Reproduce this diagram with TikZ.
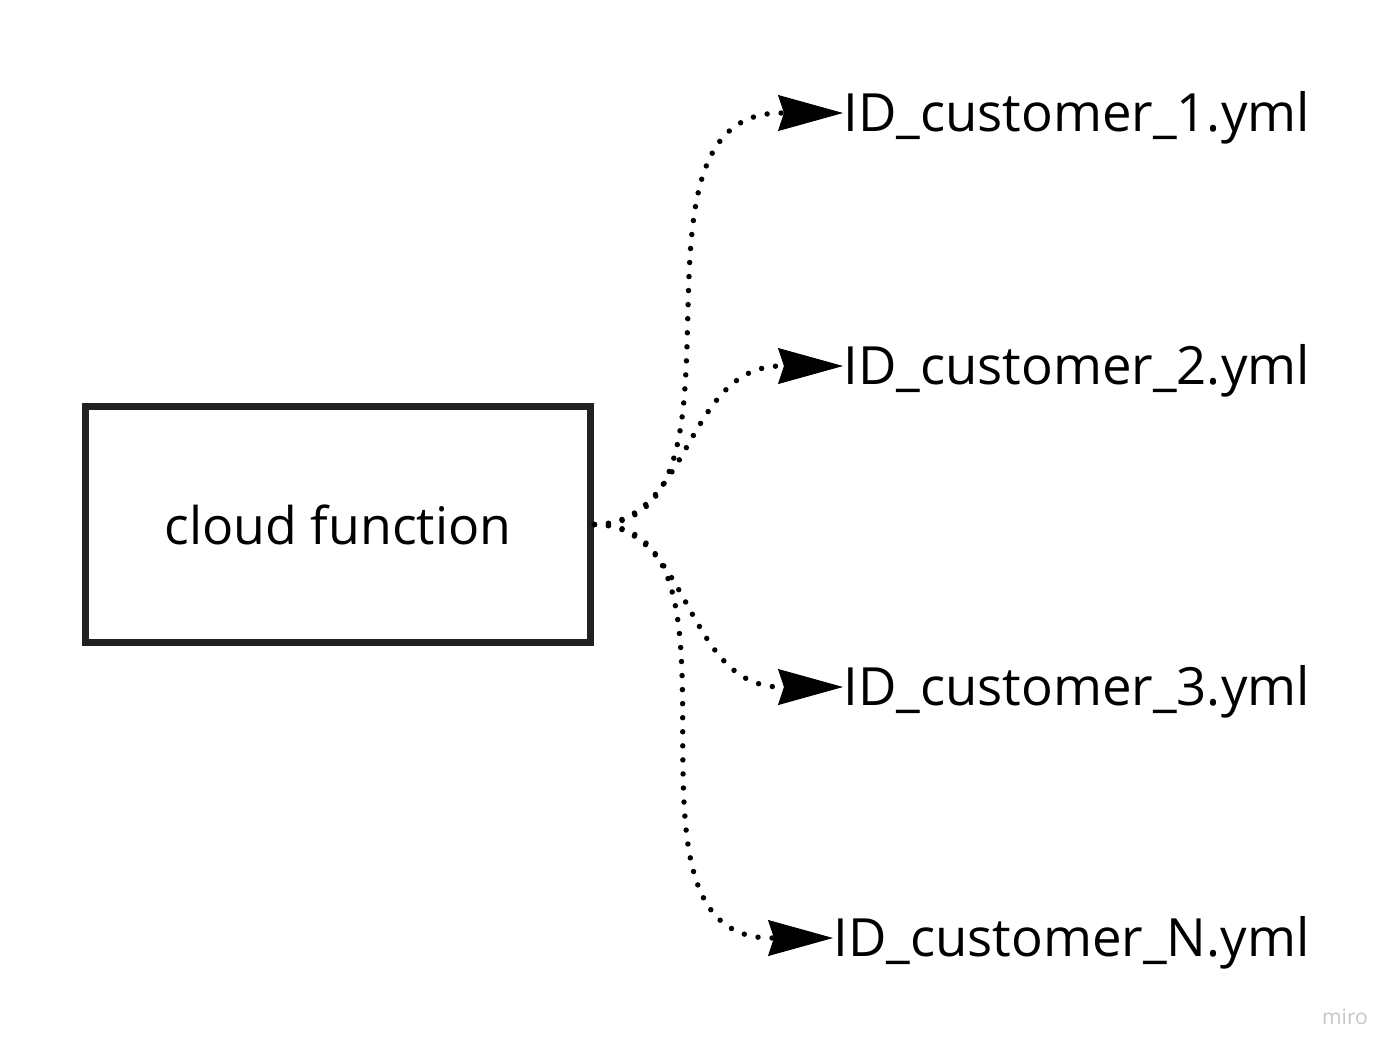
\documentclass[tikz,border=0pt]{standalone}
\usepackage{fontspec}
\setmainfont{Open Sans}
\usepackage{tikz}
\usetikzlibrary{arrows.meta,calc}

\begin{document}
\begin{tikzpicture}[x=0.02cm,y=-0.02cm,
 func/.style={draw=black!87,line width=0.14cm,minimum width=10.12cm,
              minimum height=4.74cm,inner sep=0pt,
              font=\fontsize{29.5}{34}\selectfont},
 file/.style={anchor=west,inner sep=0pt,text height=21.4pt,text depth=0pt,
              font=\fontsize{30}{36}\selectfont},
 link/.style={line width=3.1pt,line cap=round,dash pattern=on 0pt off 8pt,
              -{Stealth[length=37pt,width=20.5pt,inset=3.4pt,line width=0.5pt]}}]
\useasboundingbox (0,0) rectangle (1400,1056);
\node[func] (cf) at (338,524.5) {cloud function};
\node[file] (f1) at (843,113) {ID\_customer\_1.yml};
\node[file] (f2) at (843,366) {ID\_customer\_2.yml};
\node[file] (f3) at (843,687) {ID\_customer\_3.yml};
\node[file] (fn) at (833,938) {ID\_customer\_N.yml};
\node[text=black!22,font=\fontsize{12}{14}\selectfont] (mark) at (1345,1017) {miro};
\draw[link] (cf.east) to[out=0,in=180] ($(f1.west)+(-62,0)$) -- (f1.west);
\draw[link] (cf.east) to[out=0,in=180] ($(f2.west)+(-62,0)$) -- (f2.west);
\draw[link] (cf.east) to[out=0,in=180] ($(f3.west)+(-62,0)$) -- (f3.west);
\draw[link] (cf.east) to[out=0,in=180] ($(fn.west)+(-62,0)$) -- (fn.west);
\end{tikzpicture}
\end{document}
